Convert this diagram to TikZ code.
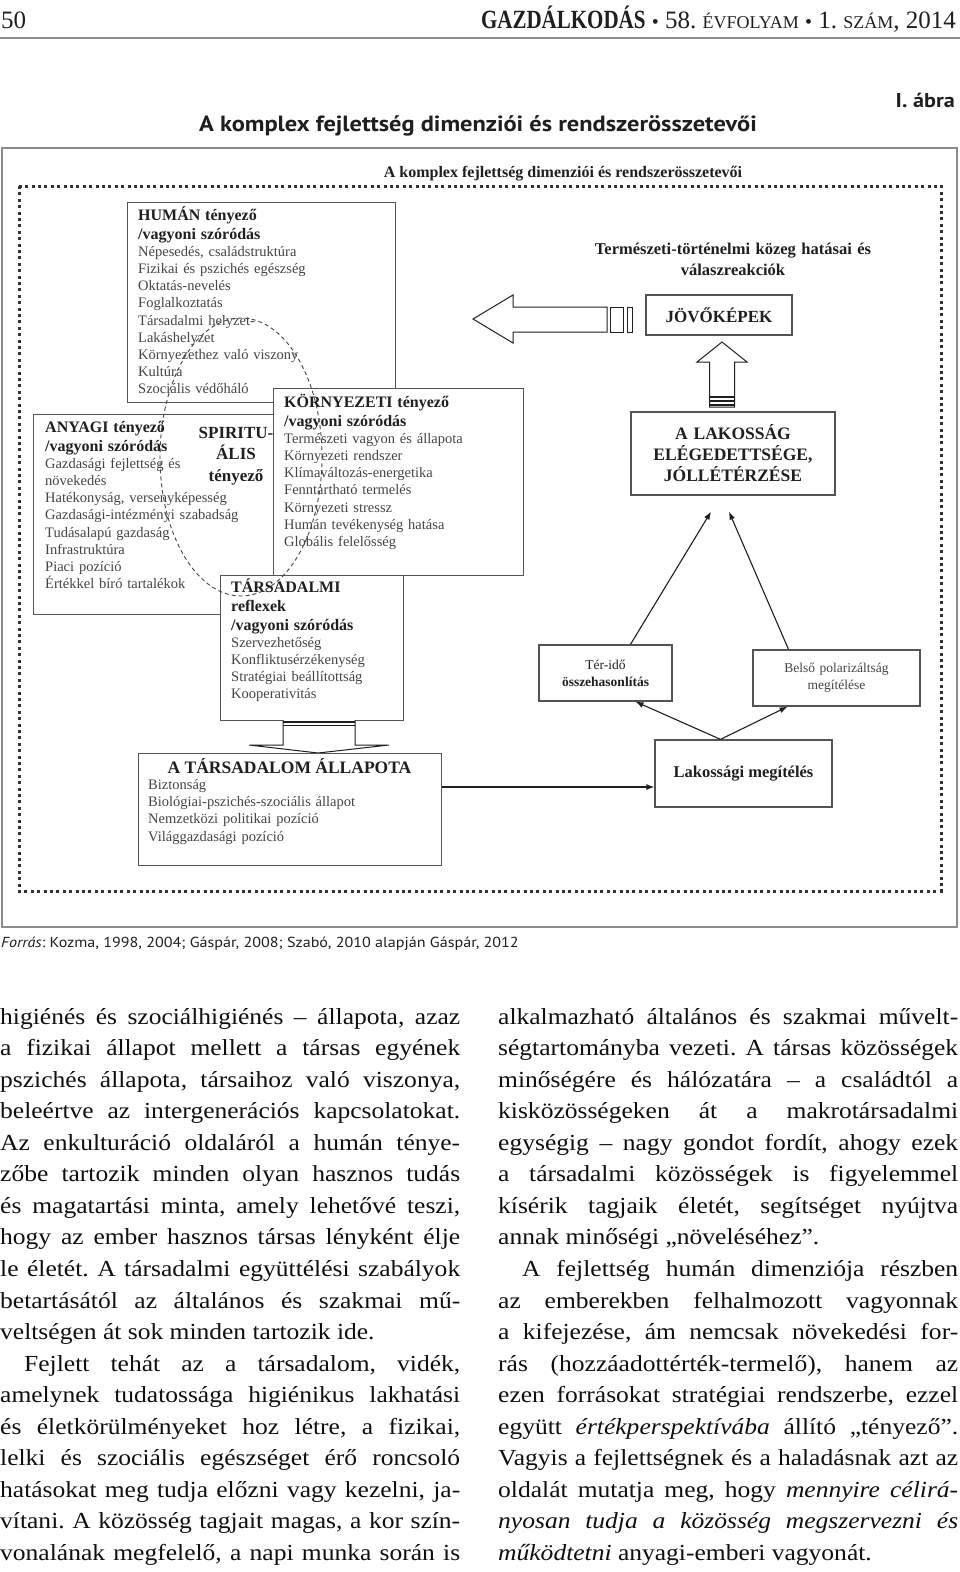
\documentclass[tikz,border=0pt]{standalone}
\usepackage{graphicx}
\usepackage{fontspec}
\setmainfont{Liberation Serif}
\newfontfamily\capfont[FakeStretch=1.11]{PT Sans}
\newfontfamily\bodyfont[FakeStretch=1.11]{Liberation Serif}
\usetikzlibrary{positioning,calc,arrows.meta}

\definecolor{inkdark}{gray}{0.12}
\definecolor{inkbody}{gray}{0.06}
\definecolor{inkitem}{gray}{0.27}
\definecolor{boxline}{gray}{0.33}
\definecolor{framegray}{gray}{0.55}
\definecolor{dotgray}{gray}{0.2}

\lineskiplimit=-30pt
\lineskip=0pt
\frenchspacing

\newcommand{\hd}[1]{{\fontsize{16}{17.2}\selectfont\bfseries\color{inkdark}#1}}
\newcommand{\jl}[1]{\makebox[460pt][s]{#1}}
\newcommand{\jli}[1]{\makebox[436pt][s]{#1}}

\tikzset{
  factbox/.style={draw=boxline, line width=1.3pt, fill=white, inner sep=0pt, anchor=north west},
  itemlist/.style={anchor=base west, inner sep=0pt, text width=#1, align=left, text=inkitem, font=\fontsize{14.5}{17.2}\selectfont},
  flowbox/.style={draw=boxline, line width=1.3pt, inner sep=0pt, align=center, text=inkdark},
  conn/.style={draw=inkdark, line width=1.1pt, -{Latex[length=8pt,width=6pt]}},
  blockarrow/.style={draw=inkdark, line width=1pt, fill=white, line join=miter},
  bodytext/.style={anchor=base west, inner sep=0pt, text=inkbody, font=\bodyfont\fontsize{23}{31.6}\selectfont}
}

\begin{document}
\begin{tikzpicture}[x=1pt, y=-1pt]
\useasboundingbox[fill=white] (0,0) rectangle (960,1572);

% page head
\node[anchor=base west, inner sep=0pt, text=inkdark, font=\fontsize{25}{25}\selectfont] (pagenum) at (1,28) {50};
\node[anchor=base east, inner sep=0pt, text=inkdark, font=\fontsize{25}{25}\selectfont] (journal) at (956,28)
  {\scalebox{0.84}[1.05]{\bfseries GAZDÁLKODÁS} {\fontsize{20}{20}\selectfont •} 58. {\fontsize{18}{18}\selectfont ÉVFOLYAM} {\fontsize{20}{20}\selectfont •} 1. {\fontsize{18}{18}\selectfont SZÁM}, 2014};
\draw[framegray, line width=1.6pt] (0,38) -- (960,38);

% caption
\node[anchor=base east, inner sep=0pt, text=inkdark, font=\capfont\bfseries\fontsize{20}{20}\selectfont] (figno) at (955,107) {I. ábra};
\node[anchor=base, inner sep=0pt, text=inkdark, font=\capfont\bfseries\fontsize{22}{22}\selectfont] (figtitle) at (478,131) {A komplex fejlettség dimenziói és rendszerösszetevői};

% frames
\draw[framegray, line width=1.5pt] (2,148) rectangle (957,927);
\node[anchor=base, inner sep=0pt, text=inkdark, font=\bfseries\fontsize{16}{16}\selectfont] (dimtitle) at (563,177) {A komplex fejlettség dimenziói és rendszerösszetevői};
\draw[dotgray, line width=3pt, dash pattern=on 3pt off 3.4pt] (19,186) rectangle (941,891);

% factor boxes
\node[factbox, minimum width=260pt, minimum height=200pt] (anyagi) at (33,414) {};
\node[itemlist=230pt] (anyagitext) at (45,432) {\hd{ANYAGI tényező}\\[1.8pt]
  \hd{/vagyoni szóródás}\\
  Gazdasági fejlettség és\\
  növekedés\\
  Hatékonyság, versenyképesség\\
  Gazdasági-intézményi szabadság\\
  Tudásalapú gazdaság\\
  Infrastruktúra\\
  Piaci pozíció\\
  Értékkel bíró tartalékok};

\node[factbox, minimum width=268pt, minimum height=200pt] (human) at (127,202) {};
\node[itemlist=240pt] (humantext) at (138,220) {\hd{HUMÁN tényező}\\[1.8pt]
  \hd{/vagyoni szóródás}\\
  Népesedés, családstruktúra\\
  Fizikai és pszichés egészség\\
  Oktatás-nevelés\\
  Foglalkoztatás\\
  Társadalmi helyzet-\\
  Lakáshelyzet\\
  Környezethez való viszony\\
  Kultúra\\
  Szociális védőháló};

\node[factbox, minimum width=250pt, minimum height=187pt] (korny) at (273,388) {};
\node[itemlist=230pt] (kornytext) at (284,407) {\hd{KÖRNYEZETI tényező}\\[1.8pt]
  \hd{/vagyoni szóródás}\\
  Természeti vagyon és állapota\\
  Környezeti rendszer\\
  Klímaváltozás-energetika\\
  Fenntartható termelés\\
  Környezeti stressz\\
  Humán tevékenység hatása\\
  Globális felelősség};

\node[factbox, minimum width=183pt, minimum height=145pt] (tarsmi) at (220,575) {};
\node[itemlist=165pt] (tarsmitext) at (231,592) {\hd{TÁRSADALMI}\\[1.8pt]
  \hd{reflexek}\\[1.8pt]
  \hd{/vagyoni szóródás}\\
  Szervezhetőség\\
  Konfliktusérzékenység\\
  Stratégiai beállítottság\\
  Kooperativitás};

% spiritual factor
\draw[draw=inkitem, line width=0.9pt, dash pattern=on 4pt off 3pt] (241,457) ellipse [x radius=81pt, y radius=139pt];
\node[anchor=base, inner sep=0pt, text width=90pt, align=center, text=inkdark, font=\bfseries\fontsize{17}{21.5}\selectfont] (spirit) at (236,438) {SPIRITU-\\ÁLIS\\tényező};

% state of society
\draw[blockarrow] (283,720) -- (283,745) -- (249,745) -- (318,753) -- (389,745) -- (355,745) -- (355,720);
\draw[inkdark, line width=1.6pt] (283,722) -- (355,722);
\draw[inkdark, line width=1.6pt] (283,725.5) -- (355,725.5);
\node[factbox, minimum width=303pt, minimum height=112pt] (tarsall) at (138,753) {};
\node[anchor=base, inner sep=0pt, text=inkdark, font=\bfseries\fontsize{17.5}{17.5}\selectfont] (tarsalltitle) at (289.5,773) {A TÁRSADALOM ÁLLAPOTA};
\node[itemlist=280pt] (tarsalltext) at (148,789.5) {Biztonság\\
  Biológiai-pszichés-szociális állapot\\
  Nemzetközi politikai pozíció\\
  Világgazdasági pozíció};

% right side
\node[text width=320pt, align=center, inner sep=0pt, anchor=base, text=inkdark, font=\bfseries\fontsize{16.5}{21}\selectfont] (kozeg) at (733,254) {Természeti-történelmi közeg hatásai és\\válaszreakciók};
\node[flowbox, minimum width=146pt, minimum height=40pt, font=\bfseries\fontsize{17}{17}\selectfont] (jovo) at (719,315) {JÖVŐKÉPEK};
\node[flowbox, minimum width=204pt, minimum height=83pt, text width=200pt, font=\bfseries\fontsize{17.5}{21}\selectfont] (lakos) at (733,453.5) {A LAKOSSÁG\\ELÉGEDETTSÉGE,\\JÓLLÉTÉRZÉSE\\[4pt]};
\node[flowbox, minimum width=133pt, minimum height=56pt, text width=130pt, font=\fontsize{13.5}{17}\selectfont] (terido) at (605.5,673) {Tér-idő\\\textbf{összehasonlítás}\\[3pt]};
\node[flowbox, minimum width=167pt, minimum height=56pt, text width=160pt, text=inkitem, font=\fontsize{13.5}{17}\selectfont] (belso) at (836.5,678) {Belső polarizáltság\\megítélése\\[3pt]};
\node[flowbox, minimum width=177pt, minimum height=67pt, font=\bfseries\fontsize{16.5}{16.5}\selectfont] (lakmeg) at (743.5,773.5) {Lakossági megítélés};

% block arrows
\draw[blockarrow] (473,319) -- (513,295) -- (513,307) -- (607,307) -- (607,332) -- (513,332) -- (513,343) -- cycle;
\draw[blockarrow] (610,307) rectangle (623,332);
\draw[blockarrow] (627,307) rectangle (632,332);
\draw[blockarrow] (722,342) -- (747,362) -- (734.5,362) -- (734.5,407) -- (709.5,407) -- (709.5,362) -- (697,362) -- cycle;
\draw[inkdark, line width=1.5pt] (709.5,397) -- (734.5,397);
\draw[inkdark, line width=1.5pt] (709.5,401) -- (734.5,401);
\draw[inkdark, line width=1.5pt] (709.5,405) -- (734.5,405);

% connectors
\coordinate (hstart) at ([yshift=-34pt]tarsall.north east);
\draw[conn] (hstart) -- (hstart -| lakmeg.west);
\coordinate (fork) at ([xshift=-23pt]lakmeg.north);
\draw[conn] (fork) -- ([xshift=30pt]terido.south);
\draw[conn] (fork) -- ([xshift=-49pt]belso.south);
\draw[conn] ([xshift=25pt]terido.north) -- ([xshift=-22pt,yshift=-16pt]lakos.south);
\draw[conn] ([xshift=-48pt]belso.north) -- ([xshift=-4pt,yshift=-16pt]lakos.south);

% source
\node[anchor=base west, inner sep=0pt, text=inkdark, font=\capfont\fontsize{14.5}{14.5}\selectfont] (source) at (1,947) {\textit{Forrás}: Kozma, 1998, 2004; Gáspár, 2008; Szabó, 2010 alapján Gáspár, 2012};

% body text, left column
\node[bodytext] (l0) at (0,1024) {\jl{higiénés és szociálhigiénés – állapota, azaz}};
\node[bodytext] (l1) at (0,1055.6) {\jl{a fizikai állapot mellett a társas egyének}};
\node[bodytext] (l2) at (0,1087.1) {\jl{pszichés állapota, társaihoz való viszonya,}};
\node[bodytext] (l3) at (0,1118.7) {\jl{beleértve az intergenerációs kapcsolatokat.}};
\node[bodytext] (l4) at (0,1150.2) {\jl{Az enkulturáció oldaláról a humán ténye-}};
\node[bodytext] (l5) at (0,1181.8) {\jl{zőbe tartozik minden olyan hasznos tudás}};
\node[bodytext] (l6) at (0,1213.3) {\jl{és magatartási minta, amely lehetővé teszi,}};
\node[bodytext] (l7) at (0,1244.9) {\jl{hogy az ember hasznos társas lényként élje}};
\node[bodytext] (l8) at (0,1276.4) {\jl{le életét. A társadalmi együttélési szabályok}};
\node[bodytext] (l9) at (0,1308) {\jl{betartásától az általános és szakmai mű-}};
\node[bodytext] (l10) at (0,1339.5) {veltségen át sok minden tartozik ide.};
\node[bodytext] (l11) at (24,1371.1) {\jli{Fejlett tehát az a társadalom, vidék,}};
\node[bodytext] (l12) at (0,1402.6) {\jl{amelynek tudatossága higiénikus lakhatási}};
\node[bodytext] (l13) at (0,1434.2) {\jl{és életkörülményeket hoz létre, a fizikai,}};
\node[bodytext] (l14) at (0,1465.7) {\jl{lelki és szociális egészséget érő roncsoló}};
\node[bodytext] (l15) at (0,1497.3) {\jl{hatásokat meg tudja előzni vagy kezelni, ja-}};
\node[bodytext] (l16) at (0,1528.8) {\jl{vítani. A közösség tagjait magas, a kor szín-}};
\node[bodytext] (l17) at (0,1560.4) {\jl{vonalának megfelelő, a napi munka során is}};

% body text, right column
\node[bodytext] (r0) at (498,1024) {\jl{alkalmazható általános és szakmai művelt-}};
\node[bodytext] (r1) at (498,1055.6) {\jl{ségtartományba vezeti. A társas közösségek}};
\node[bodytext] (r2) at (498,1087.1) {\jl{minőségére és hálózatára – a családtól a}};
\node[bodytext] (r3) at (498,1118.7) {\jl{kisközösségeken át a makrotársadalmi}};
\node[bodytext] (r4) at (498,1150.2) {\jl{egységig – nagy gondot fordít, ahogy ezek}};
\node[bodytext] (r5) at (498,1181.8) {\jl{a társadalmi közösségek is figyelemmel}};
\node[bodytext] (r6) at (498,1213.3) {\jl{kísérik tagjaik életét, segítséget nyújtva}};
\node[bodytext] (r7) at (498,1244.9) {annak minőségi „növeléséhez”.};
\node[bodytext] (r8) at (522,1276.4) {\jli{A fejlettség humán dimenziója részben}};
\node[bodytext] (r9) at (498,1308) {\jl{az emberekben felhalmozott vagyonnak}};
\node[bodytext] (r10) at (498,1339.5) {\jl{a kifejezése, ám nemcsak növekedési for-}};
\node[bodytext] (r11) at (498,1371.1) {\jl{rás (hozzáadottérték-termelő), hanem az}};
\node[bodytext] (r12) at (498,1402.6) {\jl{ezen forrásokat stratégiai rendszerbe, ezzel}};
\node[bodytext] (r13) at (498,1434.2) {\jl{együtt \textit{értékperspektívába} állító „tényező”.}};
\node[bodytext] (r14) at (498,1465.7) {\jl{Vagyis a fejlettségnek és a haladásnak azt az}};
\node[bodytext] (r15) at (498,1497.3) {\jl{oldalát mutatja meg, hogy \textit{mennyire célirá-}}};
\node[bodytext] (r16) at (498,1528.8) {\jl{\textit{nyosan tudja a közösség megszervezni és}}};
\node[bodytext] (r17) at (498,1560.4) {\textit{működtetni} anyagi-emberi vagyonát.};
\end{tikzpicture}
\end{document}
